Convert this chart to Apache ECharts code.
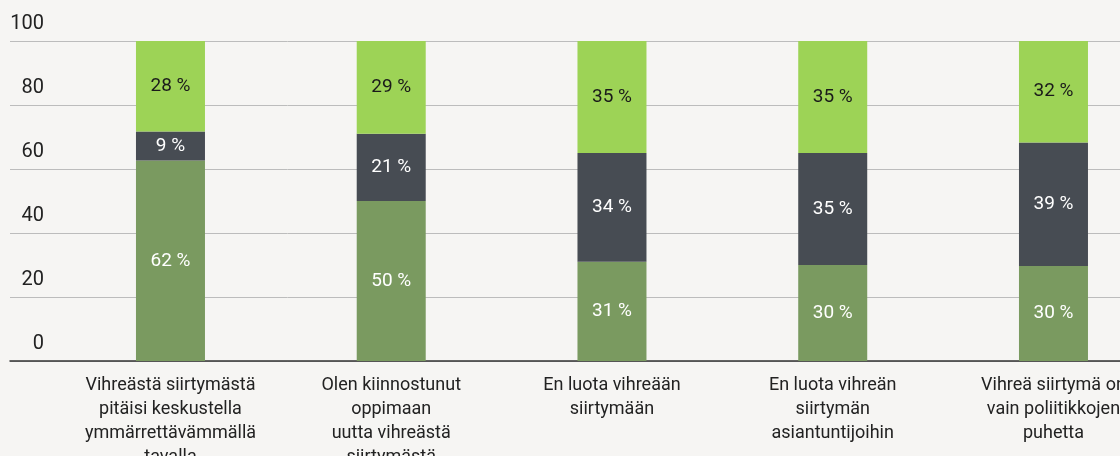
<!DOCTYPE html>
<html>
<head>
<meta charset="utf-8">
<script src="https://cdn.jsdelivr.net/npm/echarts@6/dist/echarts.min.js"></script>
<style>
html,body{margin:0;padding:0;background:#f6f5f3;}
#chart{width:1120px;height:456px;}
</style>
</head>
<body>
<div id="chart"></div>
<script>
const categories = [
  'Vihreästä siirtymästä\npitäisi keskustella\nymmärrettävämmällä\ntavalla',
  'Olen kiinnostunut\noppimaan\nuutta vihreästä\nsiirtymästä',
  'En luota vihreään\nsiirtymään',
  'En luota vihreän\nsiirtymän\nasiantuntijoihin',
  'Vihreä siirtymä on\nvain poliitikkojen\npuhetta'
];
const agree = [62, 50, 31, 30, 30];
const neutral = [9, 21, 34, 35, 39];
const disagree = [28, 29, 35, 35, 32];
const yTicks = [0, 20, 40, 60, 80, 100];

const totals = categories.map((c, i) => agree[i] + neutral[i] + disagree[i]);
const toItems = arr => arr.map((v, i) => ({ value: v / totals[i] * 100, raw: v }));

const font = 'Roboto, "Noto Sans", sans-serif';
const labelFmt = p => p.data.raw + ' %';

const chart = echarts.init(document.getElementById('chart'), null, { renderer: 'canvas' });
chart.setOption({
  backgroundColor: '#f6f5f3',
  animation: false,
  textStyle: { fontFamily: font },
  grid: [
    { left: 10, right: 0, top: 41, height: 320, outerBoundsMode: 'none', containLabel: false },
    { left: 60.1, width: 1103.75, top: 41, height: 320, outerBoundsMode: 'none', containLabel: false }
  ],
  xAxis: [
    { gridIndex: 0, type: 'value', min: 0, max: 1,
      axisLine: { show: true, lineStyle: { color: '#333', width: 1.5 } },
      axisTick: { show: false }, axisLabel: { show: false }, splitLine: { show: false } },
    { gridIndex: 1, type: 'category', data: categories,
      axisLine: { show: false }, axisTick: { show: false },
      axisLabel: { interval: 0, margin: 12, fontSize: 18, lineHeight: 24, color: '#222', fontFamily: font } }
  ],
  yAxis: [
    { gridIndex: 0, type: 'value', min: yTicks[0], max: yTicks[yTicks.length - 1], interval: 20,
      axisLine: { show: false }, axisTick: { show: false },
      splitLine: { lineStyle: { color: '#bcbcbc', width: 1 } },
      axisLabel: { inside: true, margin: 34, align: 'right', verticalAlign: 'bottom',
        padding: [0, 0, 7, 0], fontSize: 20, color: '#222', fontFamily: font } },
    { gridIndex: 1, type: 'value', min: 0, max: 100, show: false }
  ],
  series: [
    { type: 'bar', name: 'agree', xAxisIndex: 1, yAxisIndex: 1, stack: 'a', barWidth: 69,
      data: toItems(agree), itemStyle: { color: '#7a9a60' },
      label: { show: true, position: 'inside', formatter: labelFmt, color: '#fff', fontSize: 19, fontFamily: font } },
    { type: 'bar', name: 'neutral', xAxisIndex: 1, yAxisIndex: 1, stack: 'a', barWidth: 69,
      data: toItems(neutral), itemStyle: { color: '#474c53' },
      label: { show: true, position: 'inside', formatter: labelFmt, color: '#fff', fontSize: 19, fontFamily: font } },
    { type: 'bar', name: 'disagree', xAxisIndex: 1, yAxisIndex: 1, stack: 'a', barWidth: 69,
      data: toItems(disagree), itemStyle: { color: '#9dd356' },
      label: { show: true, position: 'inside', formatter: labelFmt, color: '#1a1a1a', fontSize: 19, fontFamily: font } }
  ]
});
</script>
</body>
</html>
